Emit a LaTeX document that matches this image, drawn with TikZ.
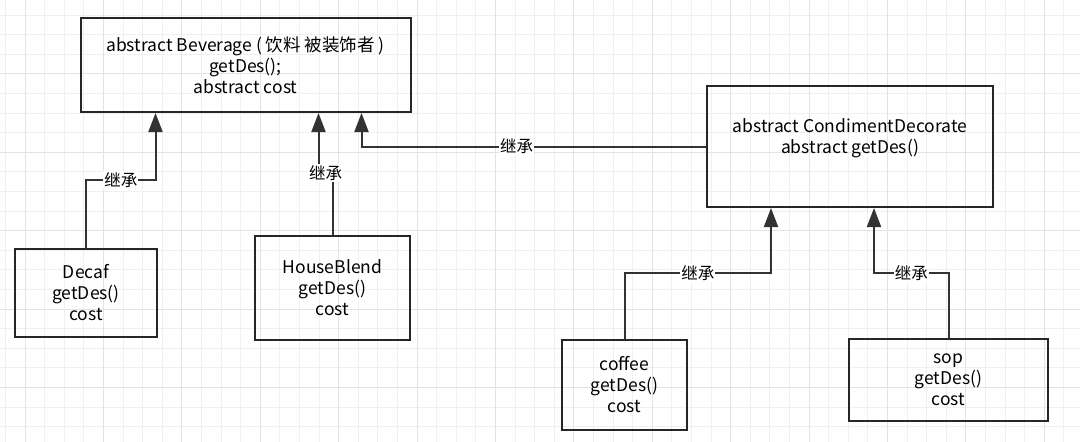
\documentclass[tikz,border=0pt]{standalone}
\usepackage{fontspec}
\setmainfont{Noto Sans CJK SC}
\usetikzlibrary{arrows.meta}

\tikzset{
  cls/.style={draw=black!85, line width=2pt, align=center, inner sep=0pt,
    font=\fontsize{17.5}{21}\selectfont},
  inh/.style={draw=black!80, line width=2pt, -{Triangle[length=19pt,width=14pt]}},
  lbl/.style={fill=white, inner sep=1pt, font=\fontsize{16.5}{18}\selectfont},
  minorgrid/.style={draw=black!6, line width=1pt},
  majorgrid/.style={draw=black!11, line width=1pt},
}

\begin{document}
\begin{tikzpicture}[x=1pt, y=-1pt]
\useasboundingbox[fill=white] (0,0) rectangle (1080,442);
% grid
\foreach \gx in {5.4,25,...,1080} \draw[minorgrid] (\gx,0) -- (\gx,442);
\foreach \gy in {15,34.6,...,442} \draw[minorgrid] (0,\gy) -- (1080,\gy);
\foreach \gx in {25,103.4,...,1080} \draw[majorgrid] (\gx,0) -- (\gx,442);
\foreach \gy in {73.8,152.2,...,442} \draw[majorgrid] (0,\gy) -- (1080,\gy);

% classes
\node[cls, minimum width=330, minimum height=94] (bev) at (245.5,65)
  {abstract Beverage ( 饮料 被装饰者 )\\getDes();\\abstract cost};
\node[cls, minimum width=142, minimum height=88] (decaf) at (86,293)
  {Decaf\\getDes()\\cost};
\node[cls, minimum width=155, minimum height=104] (house) at (332.5,288)
  {HouseBlend\\getDes()\\cost};
\node[cls, minimum width=286, minimum height=121] (cond) at (850,146.5)
  {abstract CondimentDecorate\\abstract getDes()\\\mbox{}};
\node[cls, minimum width=125, minimum height=90] (coffee) at (624.5,385)
  {coffee\\getDes()\\cost};
\node[cls, minimum width=199, minimum height=82] (sop) at (948.5,380)
  {sop\\getDes()\\cost};

% inheritance
\draw[inh] (decaf.north) -- ++(0,-68) -| node[lbl,pos=.25]{继承} ([xshift=76pt]bev.south west);
\draw[inh] (house.north) -- ++(0,-62) -| node[lbl,pos=.25]{继承} ([xshift=239pt]bev.south west);
\draw[inh] (cond.west) -| node[lbl,pos=.275]{继承} ([xshift=282pt]bev.south west);
\draw[inh] (coffee.north) -- ++(0,-66) -| node[lbl,pos=.25]{继承} ([xshift=65pt]cond.south west);
\draw[inh] (sop.north) -- ++(0,-65) -| node[lbl,pos=.25]{继承} ([xshift=168pt]cond.south west);
\end{tikzpicture}
\end{document}
